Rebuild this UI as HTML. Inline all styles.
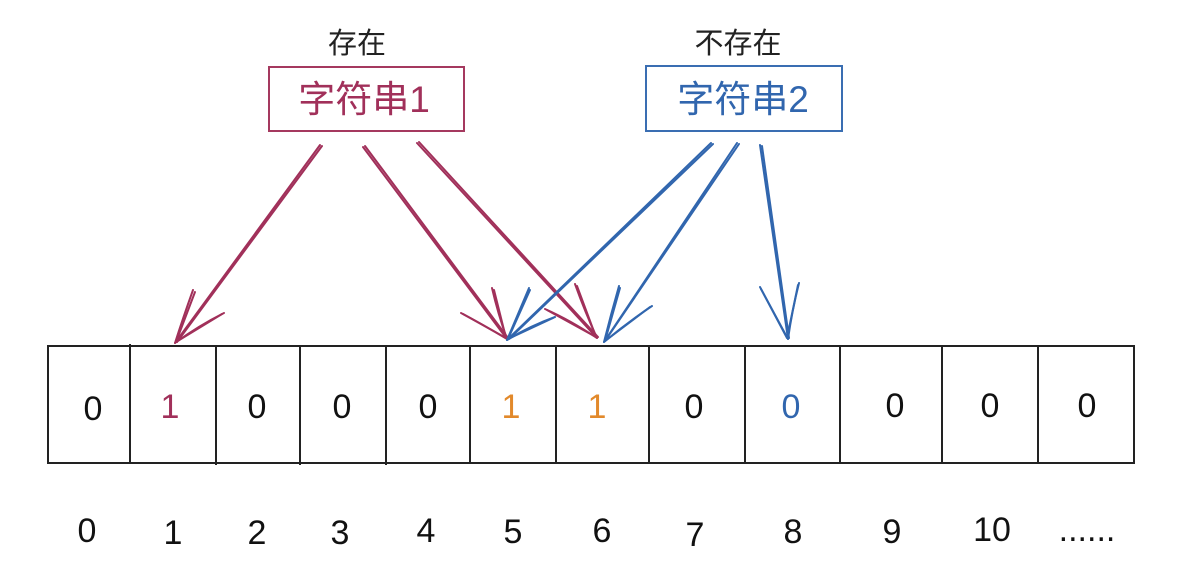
<!DOCTYPE html>
<html>
<head>
<meta charset="utf-8">
<style>
  html,body{margin:0;padding:0;background:#fff;}
  body{width:1194px;height:577px;overflow:hidden;}
  svg{display:block;}
  .cjk{font-family:"Liberation Sans","Noto Sans CJK SC",sans-serif;}
  .num{font-family:"Liberation Sans",sans-serif;font-size:34px;}
</style>
</head>
<body>
<svg width="1194" height="577" viewBox="0 0 1194 577" xmlns="http://www.w3.org/2000/svg">
  <rect width="1194" height="577" fill="#fff"/>

  <!-- top labels -->
  <text x="357" y="53" class="cjk" font-size="29" fill="#222" text-anchor="middle">存在</text>
  <text x="738" y="53" class="cjk" font-size="29" fill="#222" text-anchor="middle">不存在</text>

  <!-- boxes -->
  <rect x="269" y="67" width="195" height="64" fill="none" stroke="#A5395F" stroke-width="2"/>
  <text x="364" y="112" class="cjk" font-size="37" fill="#A1305A" text-anchor="middle">字符串1</text>
  <rect x="646" y="66" width="196" height="65" fill="none" stroke="#3A6EB2" stroke-width="2"/>
  <text x="743" y="112" class="cjk" font-size="37" fill="#3166AE" text-anchor="middle">字符串2</text>

  <!-- red arrows -->
  <g stroke="#A1305A" stroke-width="2" fill="none" stroke-linecap="round" stroke-linejoin="round">
    <path d="M320 145 L175 343"/><path d="M322 146 L177 342"/>
    <path d="M193 290 Q183 318 175 343 Q198 326 224 313"/><path d="M195 292 L176 342 L222 314"/>

    <path d="M363 147 L507 339"/><path d="M365 146 L508 338"/>
    <path d="M492 288 Q498 314 507 339 Q482 324 461 313"/><path d="M494 290 L506 338 L463 314"/>

    <path d="M417 143 L597 338"/><path d="M419 142 L598 337"/>
    <path d="M575 284 Q585 312 597 338 Q570 320 545 309"/><path d="M577 286 L596 337 L547 310"/>
  </g>

  <!-- blue arrows -->
  <g stroke="#3166AE" stroke-width="2" fill="none" stroke-linecap="round" stroke-linejoin="round">
    <path d="M711 143 L507 340"/><path d="M713 144 L509 339"/>
    <path d="M529 288 Q518 314 507 340 Q530 326 555 317"/><path d="M530 290 L508 339 L553 318"/>

    <path d="M737 143 L604 342"/><path d="M739 144 L605 341"/>
    <path d="M619 286 Q611 314 604 342 Q628 322 652 306"/><path d="M620 288 L605 341 L650 307"/>

    <path d="M760 145 L788 339"/><path d="M762 146 L789 338"/>
    <path d="M760 287 Q774 313 788 339 Q792 311 799 283"/><path d="M761 289 L787 338 L798 285"/>
  </g>

  <!-- array -->
  <g stroke="#222" stroke-width="2" fill="none">
    <rect x="48" y="346" width="1086" height="117"/>
    <line x1="130" y1="344" x2="130" y2="463"/>
    <line x1="216" y1="346" x2="216" y2="465"/>
    <line x1="300" y1="346" x2="300" y2="465"/>
    <line x1="386" y1="346" x2="386" y2="465"/>
    <line x1="470" y1="346" x2="470" y2="463"/>
    <line x1="556" y1="346" x2="556" y2="463"/>
    <line x1="649" y1="346" x2="649" y2="463"/>
    <line x1="745" y1="346" x2="745" y2="463"/>
    <line x1="840" y1="346" x2="840" y2="463"/>
    <line x1="942" y1="346" x2="942" y2="463"/>
    <line x1="1038" y1="346" x2="1038" y2="463"/>
  </g>

  <!-- cell values -->
  <g class="num" text-anchor="middle" fill="#111">
    <text x="93" y="420">0</text>
    <text x="170" y="418" fill="#A1305A">1</text>
    <text x="257" y="418">0</text>
    <text x="342" y="418">0</text>
    <text x="428" y="418">0</text>
    <text x="511" y="418" fill="#E2892B">1</text>
    <text x="597" y="418" fill="#E2892B">1</text>
    <text x="694" y="418">0</text>
    <text x="791" y="418" fill="#3166AE">0</text>
    <text x="895" y="417">0</text>
    <text x="990" y="417">0</text>
    <text x="1087" y="417">0</text>
  </g>

  <!-- index labels -->
  <g class="num" text-anchor="middle" fill="#111">
    <text x="87" y="542">0</text>
    <text x="173" y="544">1</text>
    <text x="257" y="544">2</text>
    <text x="340" y="544">3</text>
    <text x="426" y="542">4</text>
    <text x="513" y="543">5</text>
    <text x="602" y="542">6</text>
    <text x="695" y="546">7</text>
    <text x="793" y="543">8</text>
    <text x="892" y="543">9</text>
    <text x="992" y="541">10</text>
    <text x="1087" y="541">......</text>
  </g>
</svg>
</body>
</html>
